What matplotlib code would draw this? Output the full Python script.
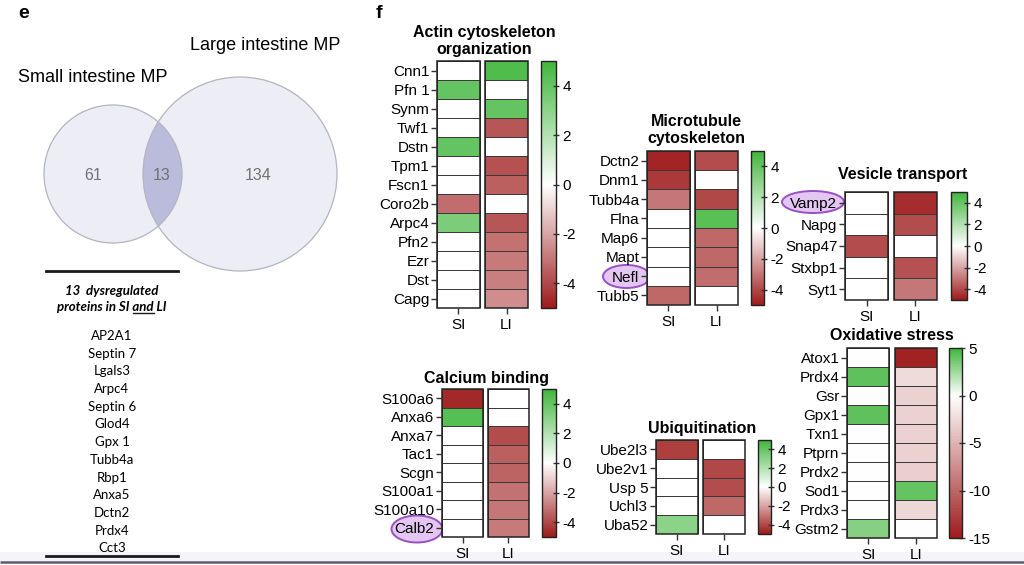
import matplotlib
matplotlib.use("Agg")
import matplotlib.pyplot as plt
import numpy as np
from matplotlib.colors import LinearSegmentedColormap, Normalize
from matplotlib.patches import Circle, Ellipse, Rectangle
from matplotlib.lines import Line2D
from matplotlib.transforms import IdentityTransform
import matplotlib.cm as cm

plt.rcParams["font.family"] = ["Liberation Sans", "DejaVu Sans"]
plt.rcParams["axes.unicode_minus"] = False

# ---------------- data ----------------
venn_labels = ["Small intestine MP", "Large intestine MP"]
venn_counts = [61, 13, 134]          # SI only, shared, LI only
shared_proteins = ["AP2A1", "Septin 7", "Lgals3", "Arpc4", "Septin 6", "Glod4",
                   "Gpx 1", "Tubb4a", "Rbp1", "Anxa5", "Dctn2", "Prdx4", "Cct3"]

actin_genes = ["Cnn1", "Pfn 1", "Synm", "Twf1", "Dstn", "Tpm1", "Fscn1", "Coro2b",
               "Arpc4", "Pfn2", "Ezr", "Dst", "Capg"]
actin_si = [0, 4.0, 0, 0, 4.0, 0, 0, -3.2, 3.4, 0, 0, 0, 0]
actin_li = [4.6, 0, 4.0, -3.7, 0, -3.8, -3.5, 0, -3.7, -3.1, -2.9, -2.8, -2.5]

micro_genes = ["Dctn2", "Dnm1", "Tubb4a", "Flna", "Map6", "Mapt", "Nefl", "Tubb5"]
micro_si = [-4.8, -4.3, -3.0, 0, 0, 0, 0, -3.3]
micro_li = [-3.9, 0, -4.0, 4.3, -3.3, -3.3, -3.2, 0]

ves_genes = ["Vamp2", "Napg", "Snap47", "Stxbp1", "Syt1"]
ves_si = [0, 0, -3.9, 0, 0]
ves_li = [-4.6, -3.9, 0, -3.8, -3.0]

ca_genes = ["S100a6", "Anxa6", "Anxa7", "Tac1", "Scgn", "S100a1", "S100a10", "Calb2"]
ca_si = [-4.7, 4.4, 0, 0, 0, 0, 0, 0]
ca_li = [0, 0, -3.9, -3.5, -3.4, -3.1, -3.0, -2.9]

ub_genes = ["Ube2l3", "Ube2v1", "Usp 5", "Uchl3", "Uba52"]
ub_si = [-4.2, 0, 0, 0, 3.0]
ub_li = [0, -4.0, -3.9, -3.3, 0]

ox_genes = ["Atox1", "Prdx4", "Gsr", "Gpx1", "Txn1", "Ptprn", "Prdx2", "Sod1", "Prdx3", "Gstm2"]
ox_si = [0, 4.2, 0, 4.2, 0, 0, 0, 0, 0, 3.2]
ox_li = [-14.5, -2.4, -3.0, -3.0, -3.0, -3.0, -3.2, 4.0, -2.6, 0]

columns = ["SI", "LI"]
highlighted = ["Nefl", "Vamp2", "Calb2"]

# ---------------- figure ----------------
W, H = 1024, 565
fig = plt.figure(figsize=(W / 100, H / 100), dpi=100)


def px(left, top, width, height):
    return [left / W, 1 - (top + height) / H, width / W, height / H]


RED, WHITE, GREEN = "#9E1B1B", "#FFFFFF", "#40B63C"
cmap_sym = LinearSegmentedColormap.from_list("rg", [(0, RED), (0.5, WHITE), (1, GREEN)])
cmap_ox = LinearSegmentedColormap.from_list("rg2", [(0, RED), (0.75, WHITE), (1, GREEN)])

# overlay axes in pixel coordinates
ov = fig.add_axes([0, 0, 1, 1])
ov.set_xlim(0, W)
ov.set_ylim(H, 0)
ov.axis("off")

# panel letters
ov.text(18, 13, "e", fontsize=14, fontweight="bold", ha="left", va="center")
ov.text(376, 13, "f", fontsize=14, fontweight="bold", ha="left", va="center")

# ---------------- Venn ----------------
c_small = Circle((113, 174), 69, facecolor="#EDEDF5", edgecolor="none", zorder=1)
c_large = Circle((240, 174), 97, facecolor="#EDEDF5", edgecolor="none", zorder=1)
ov.add_patch(c_large)
ov.add_patch(c_small)
lens = Circle((240, 174), 97, facecolor="#BBBBDC", edgecolor="none", zorder=2)
ov.add_patch(lens)
lens.set_clip_path(c_small)
ov.add_patch(Circle((113, 174), 69, facecolor="none", edgecolor="#B4B4C2", lw=0.9, zorder=3))
ov.add_patch(Circle((240, 174), 97, facecolor="none", edgecolor="#B4B4C2", lw=0.9, zorder=3))
ov.text(18, 77, venn_labels[0], fontsize=13, ha="left", va="center")
ov.text(190, 45, venn_labels[1], fontsize=13, ha="left", va="center")
for (x, y), c in zip([(93, 175), (162, 175), (258, 175)], venn_counts):
    ov.text(x, y, str(c), fontsize=11.5, color="#727272", ha="center", va="center", zorder=4)

# ---------------- list of shared proteins ----------------
ov.plot([46, 178], [271, 271], color="#1a1a1a", lw=2)
ov.plot([46, 178], [556, 556], color="#1a1a1a", lw=2)
lfont = ["Lato", "DejaVu Sans"]
ov.text(112, 291, f"{venn_counts[1]}  dysregulated", fontsize=9.5, fontweight="bold",
        style="italic", family=lfont, ha="center", va="center")
head2 = ov.text(112, 307, "proteins in SI and LI", fontsize=9.5, fontweight="bold",
                style="italic", family=lfont, ha="center", va="center")
for i, p in enumerate(shared_proteins):
    ov.text(112, 336 + i * 17.7, p, fontsize=9.5, family=lfont, ha="center", va="center")

# screen-edge strip at the bottom
ov.add_patch(Rectangle((0, 552), W, 9, facecolor="#F5F5F7", edgecolor="none", zorder=0))
ov.plot([0, W], [561.5, 561.5], color="#5A5A6E", lw=1.8, solid_capstyle="butt")

# highlight ellipses
for cx, cy, w, h in [(626.5, 276.5, 47, 23), (813, 202, 62, 22), (417, 529, 51, 27)]:
    ov.add_patch(Ellipse((cx, cy), w, h, facecolor="#E3C6F1", edgecolor="#9C4FC4", lw=1.4, zorder=1))


# ---------------- heatmaps ----------------
def heatmap(genes, si, li, heat, cbar, title, title_xy, cmap, norm, ticks):
    l, t, r, b = heat
    ax = fig.add_axes(px(l, t, r - l, b - t))
    ax.set_facecolor("none")
    n = len(genes)
    data = np.column_stack([si, li])
    gap = 0.12
    xs = [(0, 1), (1 + gap, 2 + gap)]
    for j, (x0, x1) in enumerate(xs):
        ax.pcolormesh(np.array([x0, x1]), np.arange(n + 1), data[:, j:j + 1], cmap=cmap,
                      norm=norm, edgecolors="#3a3a3a", linewidth=0.7)
        ax.add_patch(Rectangle((x0, 0), x1 - x0, n, facecolor="none", edgecolor="#222222",
                               lw=1.1, clip_on=False))
    ax.set_xlim(0, 2 + gap)
    ax.set_ylim(n, 0)
    ax.set_yticks(np.arange(n) + 0.5, genes)
    ax.set_xticks([0.5, 1.5 + gap], columns)
    for s in ax.spines.values():
        s.set_visible(False)
    ax.tick_params(length=4, width=1, color="#333333", pad=1.5, labelsize=11)
    ax.tick_params(axis="x", pad=3)

    cl, ct, cr, cbm = cbar
    cax = fig.add_axes(px(cl, ct, cr - cl, cbm - ct))
    sm = cm.ScalarMappable(norm=norm, cmap=cmap)
    cb = fig.colorbar(sm, cax=cax, ticks=ticks)
    cb.outline.set_linewidth(1.0)
    cb.outline.set_edgecolor("#222222")
    cax.tick_params(labelsize=11, length=5, width=1, direction="inout", color="#333333", pad=2)

    fig.text(title_xy[0] / W, 1 - title_xy[1] / H, title, fontsize=11.5, fontweight="bold",
             ha="center", va="center", linespacing=1.15)
    return ax


norm5 = Normalize(-5, 5)
t5 = [-4, -2, 0, 2, 4]
heatmap(actin_genes, actin_si, actin_li, (437, 61, 528, 308), (541, 61, 556, 308),
        "Actin cytoskeleton\norganization", (484, 41), cmap_sym, norm5, t5)
heatmap(micro_genes, micro_si, micro_li, (647, 151, 738, 305), (751, 151, 764, 305),
        "Microtubule\ncytoskeleton", (696, 130), cmap_sym, norm5, t5)
heatmap(ves_genes, ves_si, ves_li, (845, 192, 937, 300), (951, 192, 967, 300),
        "Vesicle transport", (903, 175), cmap_sym, norm5, t5)
heatmap(ca_genes, ca_si, ca_li, (442, 389, 529, 537), (542, 389, 556, 537),
        "Calcium binding", (486, 378), cmap_sym, norm5, t5)
heatmap(ub_genes, ub_si, ub_li, (656, 440, 745, 534), (758, 440, 771, 534),
        "Ubiquitination", (702, 428), cmap_sym, norm5, t5)
heatmap(ox_genes, ox_si, ox_li, (847, 348, 937, 538), (949, 348, 962, 538),
        "Oxidative stress", (892, 335), cmap_ox, Normalize(-15, 5), [-15, -10, -5, 0, 5])

# underline "and" in the heading
renderer = fig.canvas.get_renderer()
bb = head2.get_window_extent(renderer)
prop = head2.get_fontproperties()
w_full, h_full, d_full = renderer.get_text_width_height_descent("proteins in SI and LI", prop, ismath=False)
w_pre, _, _ = renderer.get_text_width_height_descent("proteins in SI and", prop, ismath=False)
w_and, _, _ = renderer.get_text_width_height_descent("and", prop, ismath=False)
x_end = bb.x0 + w_pre
x_start = x_end - w_and
y_line = bb.y0 + d_full - 2
fig.add_artist(Line2D([x_start, x_end], [y_line, y_line], transform=IdentityTransform(),
                      color="#1a1a1a", lw=1.0))

fig.savefig("out.png", dpi=100)
